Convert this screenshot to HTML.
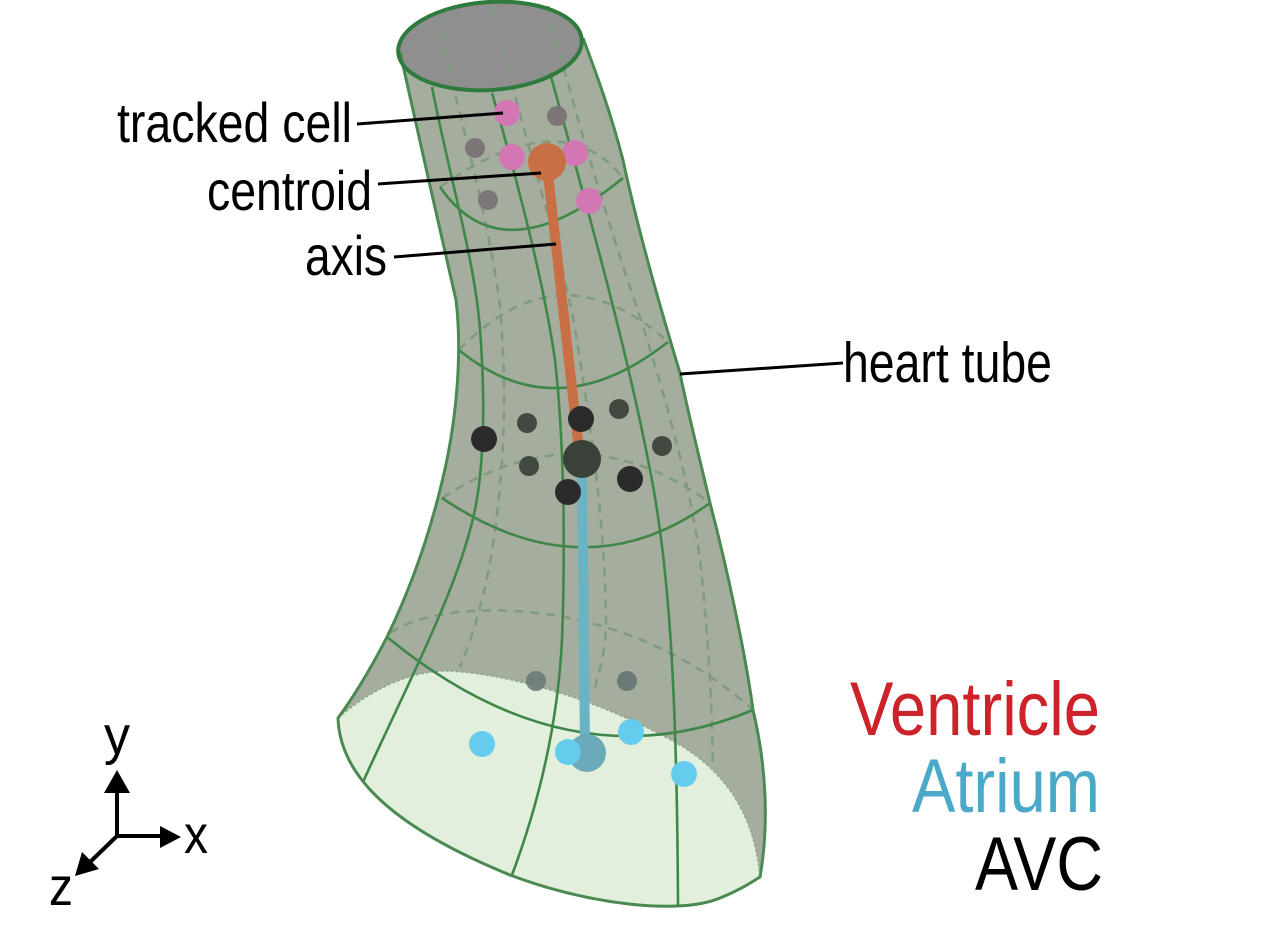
<!DOCTYPE html>
<html>
<head>
<meta charset="utf-8">
<style>
  html, body { margin: 0; padding: 0; background: #ffffff; }
  body { width: 1283px; height: 950px; overflow: hidden; }
  svg { display: block; }
  text { font-family: "Liberation Sans", Arial, sans-serif; }
</style>
</head>
<body>
<svg width="1283" height="950" viewBox="0 0 1283 950" xmlns="http://www.w3.org/2000/svg">
  <rect width="1283" height="950" fill="#ffffff"/>

  <!-- tube body -->
  <path d="M 400,52 C 415,120 440,230 456,300 C 462,350 458,420 440,490 C 425,550 405,600 387,637 C 370,670 355,695 338,718 C 340,780 400,830 510,875 C 590,905 680,915 720,898 C 740,890 752,882 760,877 C 770,820 765,760 753,710 C 745,650 725,560 710,503 C 700,460 685,400 680,373 C 670,340 640,240 623,160 C 610,110 595,70 583,38 Z" fill="#a5ad9f"/>

  <!-- top ellipse fill -->
  <ellipse cx="490" cy="46" rx="92" ry="44" transform="rotate(-4 490 46)" fill="#8f8f8f"/>

  <!-- dashed back lines -->
  <g fill="none" stroke="#7f9a7f" stroke-width="2.5" stroke-dasharray="9 7">
    <path d="M 438,18 C 452,90 490,220 500,307 C 508,400 503,470 495,530 C 487,590 475,630 460,667"/>
    <path d="M 492,4 C 505,70 555,230 573,317 C 590,420 605,520 606,620 C 606,650 600,670 593,693"/>
    <path d="M 548,6 C 560,60 600,200 640,317 C 660,380 690,480 700,560 C 707,620 712,700 713,767"/>
    <path d="M 440,187 Q 562,101 623,178"/>
    <path d="M 459,350 Q 560,245 668,342"/>
    <path d="M 442,498 Q 580,408 710,503"/>
    <path d="M 390,633 C 440,598 620,590 753,710"/>
  </g>

  <!-- light green opening -->
  <path d="M 338,718 C 370,690 410,670 450,671 C 520,675 610,705 680,745 C 730,775 755,820 760,877 C 752,882 740,890 720,898 C 680,915 590,905 510,875 C 400,830 340,780 338,718 Z" fill="#e1efdc"/>
  <path d="M 338,718 C 370,690 410,670 450,671 C 520,675 610,705 680,745 C 730,775 755,820 760,877" fill="none" stroke="#8fa98f" stroke-width="1.6" stroke-dasharray="3 2"/>

  <!-- solid front lines -->
  <g fill="none" stroke="#3f8748" stroke-width="2.6">
    <path d="M 432,87 C 450,180 475,260 480,330 C 487,420 482,490 470,530 C 452,600 400,700 363,782"/>
    <path d="M 492,93 C 520,190 545,290 555,360 C 565,450 565,560 562,640 C 558,720 540,800 512,875"/>
    <path d="M 550,73 C 585,200 625,340 650,470 C 670,570 677,700 678,905"/>
    <path d="M 440,187 Q 502,277 623,178"/>
    <path d="M 459,350 Q 556,430 668,342"/>
    <path d="M 442,498 Q 584,594 710,503"/>
    <path d="M 387,637 Q 570,787 753,710"/>
  </g>

  <!-- outline -->
  <path d="M 400,52 C 415,120 440,230 456,300 C 462,350 458,420 440,490 C 425,550 405,600 387,637 C 370,670 355,695 338,718 C 340,780 400,830 510,875 C 590,905 680,915 720,898 C 740,890 752,882 760,877 C 770,820 765,760 753,710 C 745,650 725,560 710,503 C 700,460 685,400 680,373 C 670,340 640,240 623,160 C 610,110 595,70 583,38" fill="none" stroke="#4a8a52" stroke-width="3"/>

  <!-- top ellipse outline -->
  <ellipse cx="490" cy="46" rx="92" ry="44" transform="rotate(-4 490 46)" fill="none" stroke="#2f7a3d" stroke-width="4"/>

  <!-- axis lines -->
  <line x1="547" y1="165" x2="578" y2="442" stroke="#c96f45" stroke-width="10"/>
  <line x1="582" y1="470" x2="585" y2="745" stroke="#68b3c4" stroke-width="10"/>

  <!-- top cells -->
  <g fill="#7d7676">
    <circle cx="557" cy="116" r="10"/>
    <circle cx="475" cy="148" r="10"/>
    <circle cx="488" cy="200" r="10"/>
  </g>
  <g fill="#d276b4">
    <circle cx="507" cy="113" r="13"/>
    <circle cx="512" cy="157" r="13"/>
    <circle cx="575" cy="153" r="13"/>
    <circle cx="589" cy="201" r="13"/>
  </g>
  <circle cx="547" cy="162" r="19" fill="#c96f45"/>

  <!-- middle cells -->
  <g fill="#414a41">
    <circle cx="527" cy="423" r="10"/>
    <circle cx="619" cy="409" r="10"/>
    <circle cx="662" cy="446" r="10"/>
    <circle cx="529" cy="466" r="10"/>
  </g>
  <g fill="#2b2b2b">
    <circle cx="484" cy="439" r="13"/>
    <circle cx="581" cy="419" r="13"/>
    <circle cx="630" cy="479" r="13"/>
    <circle cx="568" cy="492" r="13"/>
  </g>
  <circle cx="582" cy="459" r="19" fill="#394139"/>

  <!-- bottom cells -->
  <circle cx="536" cy="681" r="10" fill="#6b7a76" opacity="0.9"/>
  <circle cx="627" cy="681" r="10" fill="#6b7a76"/>
  <circle cx="587" cy="753" r="19" fill="#6aaab9"/>
  <g fill="#66ccee">
    <circle cx="482" cy="744" r="13"/>
    <circle cx="568" cy="752" r="13"/>
    <circle cx="631" cy="732" r="13"/>
    <circle cx="684" cy="774" r="13"/>
  </g>

  <!-- label leader lines -->
  <g stroke="#000" stroke-width="3">
    <line x1="357" y1="124" x2="503" y2="113"/>
    <line x1="378" y1="184" x2="541" y2="173"/>
    <line x1="394" y1="257" x2="556" y2="244"/>
    <line x1="680" y1="374" x2="843" y2="363"/>
  </g>

  <!-- labels -->
  <g fill="#000" font-size="56">
    <text x="117" y="142" textLength="235" lengthAdjust="spacingAndGlyphs">tracked cell</text>
    <text x="207" y="210" textLength="165" lengthAdjust="spacingAndGlyphs">centroid</text>
    <text x="305" y="275" textLength="82" lengthAdjust="spacingAndGlyphs">axis</text>
    <text x="843" y="382" font-size="57" textLength="209" lengthAdjust="spacingAndGlyphs">heart tube</text>
  </g>

  <text x="850" y="735" font-size="76" fill="#cc2229" textLength="250" lengthAdjust="spacingAndGlyphs">Ventricle</text>
  <text x="912" y="812" font-size="76" fill="#4aa8c8" textLength="188" lengthAdjust="spacingAndGlyphs">Atrium</text>
  <text x="975" y="890" font-size="76" fill="#000" textLength="128" lengthAdjust="spacingAndGlyphs">AVC</text>

  <!-- coordinate axes -->
  <g stroke="#000" stroke-width="4" fill="none">
    <line x1="117" y1="837" x2="117" y2="788"/>
    <line x1="115" y1="836" x2="164" y2="836"/>
    <line x1="117" y1="836" x2="88" y2="864"/>
  </g>
  <g fill="#000">
    <polygon points="117,770 104,793 130,793"/>
    <polygon points="181,837 160,826 160,848"/>
    <polygon points="75,876 82,852 99,869"/>
  </g>
  <g fill="#000" font-size="54">
    <text x="104" y="754" textLength="26" lengthAdjust="spacingAndGlyphs">y</text>
    <text x="184" y="853" textLength="24" lengthAdjust="spacingAndGlyphs">x</text>
    <text x="49" y="905" textLength="24" lengthAdjust="spacingAndGlyphs">z</text>
  </g>
</svg>
</body>
</html>
